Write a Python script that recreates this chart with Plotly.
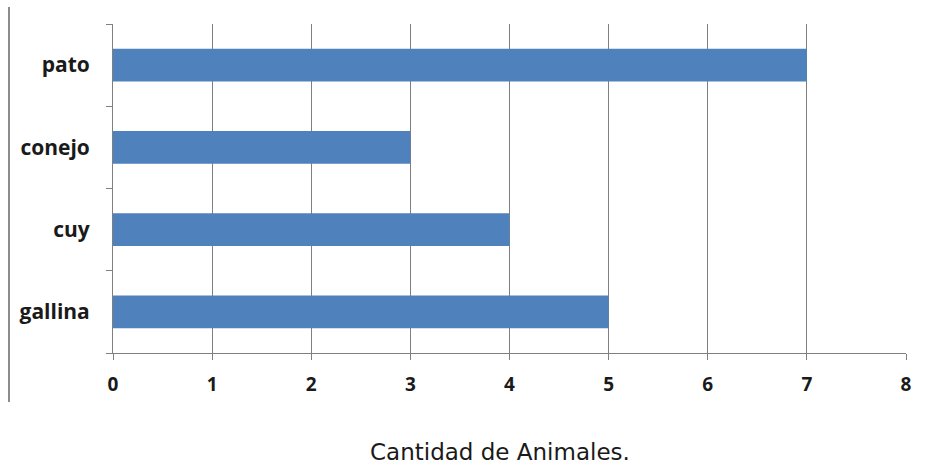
import plotly.graph_objects as go

categories = ["gallina", "cuy", "conejo", "pato"]
values = [5, 4, 3, 7]
x_ticks = [0, 1, 2, 3, 4, 5, 6, 7, 8]
x_title = "Cantidad de Animales."

W, H = 930, 466
ML, MR, MT, MB = 113, 24, 24, 113
pw, ph = W - ML - MR, H - MT - MB

fig = go.Figure(go.Bar(
    x=values, y=categories, orientation="h",
    marker=dict(color="#4F81BD", line=dict(width=0)),
    width=0.4,
))

fig.update_layout(
    width=W, height=H,
    margin=dict(l=ML, r=MR, t=MT, b=MB),
    paper_bgcolor="white", plot_bgcolor="white",
    showlegend=False,
    xaxis=dict(
        range=[0, 8], tickvals=x_ticks,
        showgrid=True, gridcolor="#7f7f7f", gridwidth=1,
        showline=True, linecolor="#7f7f7f", linewidth=1,
        ticks="outside", ticklen=6, tickcolor="#7f7f7f",
        tickfont=dict(family="'Open Sans', sans-serif", size=19, color="#1a1a1a", weight="bold"),
        ticklabelstandoff=8,
        zeroline=False,
        fixedrange=True,
    ),
    yaxis=dict(
        categoryorder="array", categoryarray=categories,
        showgrid=False,
        showline=True, linecolor="#7f7f7f", linewidth=1,
        ticks="outside", ticklen=6, tickcolor="#7f7f7f",
        tickson="boundaries",
        tickfont=dict(family="'Open Sans', sans-serif", size=21, color="#1a1a1a", weight="bold"),
        ticklabelstandoff=18,
        range=[-0.5, 3.5],
        fixedrange=True,
    ),
    annotations=[dict(
        text=x_title, xref="paper", yref="paper",
        x=(500 - ML) / pw, y=-(452 - MT - ph) / ph,
        xanchor="center", yanchor="middle", showarrow=False,
        font=dict(family="'DejaVu Sans', sans-serif", size=23, color="#1a1a1a"),
    )],
    shapes=[dict(
        type="line", xref="paper", yref="paper",
        x0=(9 - ML) / pw, x1=(9 - ML) / pw,
        y0=(MT + ph - 7) / ph, y1=(MT + ph - 402) / ph,
        line=dict(color="#8c8c8c", width=2),
    )],
)

fig.write_html("out.html")
